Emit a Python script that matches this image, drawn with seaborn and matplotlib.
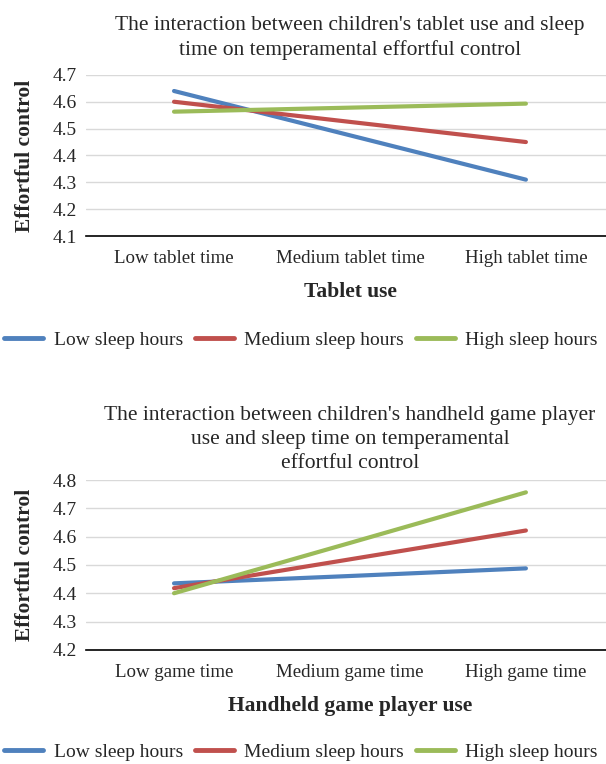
import matplotlib
matplotlib.use("Agg")
import matplotlib.pyplot as plt
import pandas as pd
import seaborn as sns

# data
sleep_groups = ['Low sleep hours', 'Medium sleep hours', 'High sleep hours']
tablet_levels = ['Low tablet time', 'Medium tablet time', 'High tablet time']
game_levels = ['Low game time', 'Medium game time', 'High game time']

tablet_low = [4.64, 4.475, 4.31]
tablet_med = [4.60, 4.525, 4.45]
tablet_high = [4.563, 4.578, 4.593]

game_low = [4.435, 4.461, 4.488]
game_med = [4.418, 4.520, 4.622]
game_high = [4.400, 4.578, 4.757]

colors = ['#4F81BD', '#C0504D', '#9BBB59']

sns.set_style('white')
plt.rcParams['font.family'] = ['Liberation Serif', 'DejaVu Serif']


def long_df(levels, series):
    rows = []
    for name, vals in zip(sleep_groups, series):
        for i, v in enumerate(vals):
            rows.append({'x': i, 'level': levels[i], 'group': name, 'value': v})
    return pd.DataFrame(rows)


def draw(ax, df, levels, ylim, title, xlabel, tpad):
    sns.lineplot(data=df, x='x', y='value', hue='group', hue_order=sleep_groups,
                 palette=colors, linewidth=3, ax=ax, legend=False)
    ax.set_xlim(-0.5, 2.5)
    ax.set_ylim(*ylim)
    ax.set_yticks([round(ylim[0] + 0.1 * k, 1) for k in range(7)])
    ax.set_xticks(range(3))
    ax.set_xticklabels(levels)
    ax.tick_params(axis='both', labelsize=14, length=0)
    ax.tick_params(axis='x', labelsize=13.6, pad=10)
    ax.tick_params(axis='y', pad=6.5)
    ax.yaxis.grid(True, color='#d9d9d9', linewidth=1)
    for s in ['top', 'right', 'left']:
        ax.spines[s].set_visible(False)
    ax.spines['bottom'].set_color('black')
    ax.spines['bottom'].set_linewidth(1.2)
    ax.set_ylabel('Effortful control', fontsize=15.5, fontweight='bold', labelpad=13)
    ax.set_xlabel(xlabel, fontsize=15.5, fontweight='bold', labelpad=11)
    ax.set_title(title, fontsize=15.5, pad=tpad, linespacing=1.35)


fig = plt.figure(figsize=(6.06, 7.64), dpi=100)
ax1 = fig.add_axes([0.142, 0.691, 0.871, 0.211])
ax2 = fig.add_axes([0.142, 0.1495, 0.871, 0.222])

draw(ax1, long_df(tablet_levels, [tablet_low, tablet_med, tablet_high]), tablet_levels,
     (4.1, 4.7), "The interaction between children's tablet use and sleep\ntime on temperamental effortful control",
     'Tablet use', 14)
draw(ax2, long_df(game_levels, [game_low, game_med, game_high]), game_levels,
     (4.2, 4.8), "The interaction between children's handheld game player\nuse and sleep time on temperamental\neffortful control",
     'Handheld game player use', 9)

handles = [plt.Line2D([], [], color=c, linewidth=3.5) for c in colors]
for y in [0.555, 0.016]:
    fig.legend(handles, sleep_groups, loc='center', bbox_to_anchor=(0.497, y),
               ncol=3, frameon=False, fontsize=14, handlelength=2.0,
               columnspacing=0.6, handletextpad=0.55, borderpad=0, borderaxespad=0)

fig.savefig('out.png', dpi=100)
